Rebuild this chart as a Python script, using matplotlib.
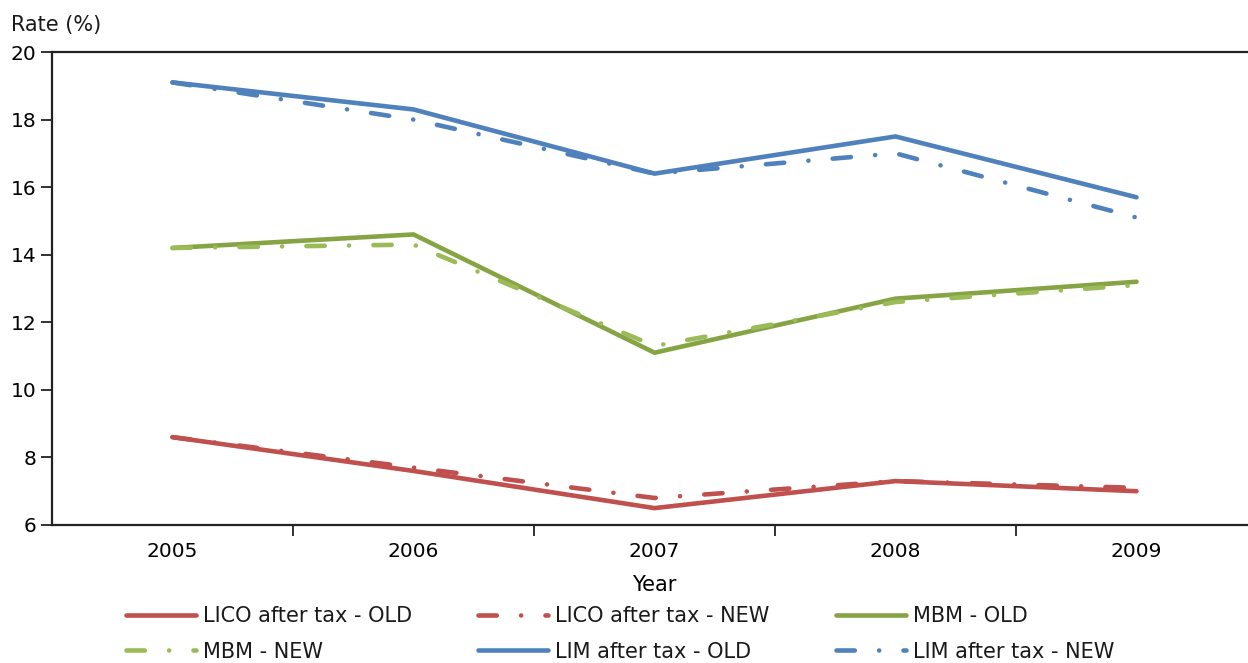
import matplotlib
matplotlib.use("Agg")
import matplotlib.pyplot as plt

years = ["2005", "2006", "2007", "2008", "2009"]
lico_old = [8.6, 7.6, 6.5, 7.3, 7.0]
lico_new = [8.6, 7.7, 6.8, 7.3, 7.1]
mbm_old = [14.2, 14.6, 11.1, 12.7, 13.2]
mbm_new = [14.2, 14.3, 11.3, 12.6, 13.1]
lim_old = [19.1, 18.3, 16.4, 17.5, 15.7]
lim_new = [19.1, 18.0, 16.4, 17.0, 15.1]

RED = "#C0504D"
GREEN_OLD = "#86A444"
GREEN_NEW = "#9BBB59"
BLUE = "#4F81BD"
DASHDOT = (0, (4.0, 5.3, 0.01, 5.3))

plt.rcParams["font.family"] = ["DejaVu Sans"]
plt.rcParams["text.color"] = "#1a1a1a"

W, H = 1248, 663
fig = plt.figure(figsize=(W / 100, H / 100), dpi=100)
# category width is 241 px; axes runs past the right edge like the reference crop
ax = fig.add_axes([52 / W, 1 - 525 / H, 241 * 5 / W, (525 - 52) / H])

x = list(range(len(years)))
lw = 3.3
series = [
    (lico_old, RED, "-", "LICO after tax - OLD"),
    (lico_new, RED, DASHDOT, "LICO after tax - NEW"),
    (mbm_old, GREEN_OLD, "-", "MBM - OLD"),
    (mbm_new, GREEN_NEW, DASHDOT, "MBM - NEW"),
    (lim_old, BLUE, "-", "LIM after tax - OLD"),
    (lim_new, BLUE, DASHDOT, "LIM after tax - NEW"),
]
handles = []
for vals, col, ls, lab in series:
    h, = ax.plot(x, vals, color=col, ls=ls, lw=lw, label=lab,
                 solid_capstyle="round", dash_capstyle="round",
                 solid_joinstyle="miter")
    handles.append(h)

ax.set_xlim(-0.5, 4.5)
ax.set_ylim(6, 20)
ax.set_yticks(range(6, 21, 2))
ax.set_xticks(x)
ax.set_xticklabels(years)
ax.set_xticks([0.5, 1.5, 2.5, 3.5], minor=True)
ax.tick_params(axis="x", which="major", length=0, pad=12, labelsize=14.5)
ax.tick_params(axis="x", which="minor", length=8, width=1.3, direction="out",
               color="#222222")
ax.tick_params(axis="y", length=8, width=1.3, direction="out", pad=3,
               labelsize=14.5, color="#222222")

for s in ["left", "bottom", "top"]:
    ax.spines[s].set_linewidth(1.6)
    ax.spines[s].set_color("#222222")
ax.spines["right"].set_visible(False)

ax.set_xlabel("Year", fontsize=15, labelpad=10)
fig.text(11 / W, 1 - 25 / H, "Rate (%)", fontsize=15, ha="left", va="center")

# legend is filled column-wise, so reorder to read row-wise like the reference
order = [0, 3, 1, 4, 2, 5]
leg = fig.legend([handles[i] for i in order], [series[i][3] for i in order],
                 ncol=3, loc="upper left",
                 bbox_to_anchor=(126 / W, 1 - 606 / H), frameon=False,
                 fontsize=15, handlelength=3.35, handletextpad=0.33,
                 columnspacing=3.2, labelspacing=0.75, borderpad=0,
                 borderaxespad=0)

fig.savefig("out.png", dpi=100)
